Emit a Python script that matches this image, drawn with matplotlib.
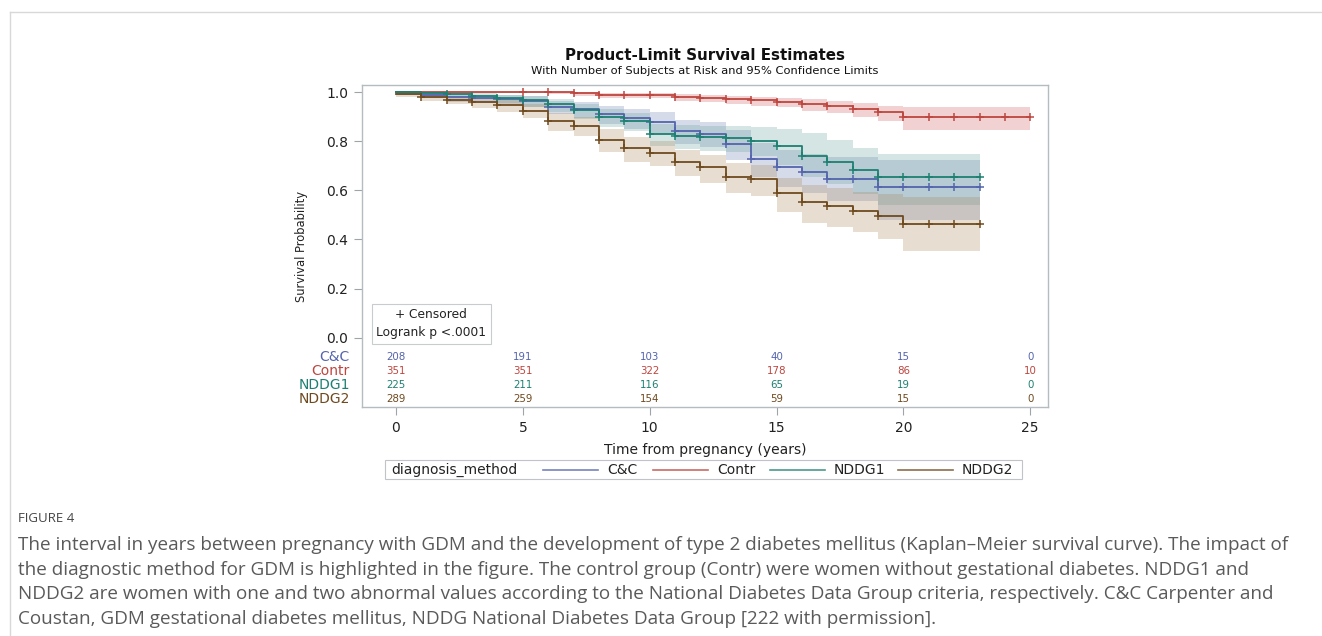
import numpy as np
import matplotlib.pyplot as plt
from matplotlib.lines import Line2D
from matplotlib.patches import Rectangle

plt.rcParams['font.family'] = ['DejaVu Sans']

# groups and colours
groups = ["C&C", "Contr", "NDDG1", "NDDG2"]
line_cols = ["#5464ad", "#bd463f", "#1d8071", "#6f4a1f"]
band_cols = ["#6f7eb3", "#d05b5b", "#66a5a0", "#a9865b"]

# Kaplan-Meier estimates, one value per yearly step
t_cc = list(range(20))
s_cc = [1.000, 0.990, 0.980, 0.975, 0.970, 0.965, 0.940, 0.930, 0.911, 0.895,
        0.878, 0.840, 0.831, 0.789, 0.727, 0.694, 0.673, 0.646, 0.646, 0.613]
lo_cc = [0.990, 0.975, 0.960, 0.955, 0.950, 0.940, 0.910, 0.895, 0.870, 0.850,
         0.830, 0.790, 0.775, 0.725, 0.655, 0.615, 0.590, 0.555, 0.555, 0.480]
hi_cc = [1.000, 1.000, 0.995, 0.990, 0.990, 0.985, 0.965, 0.958, 0.945, 0.932,
         0.920, 0.888, 0.880, 0.845, 0.792, 0.765, 0.748, 0.735, 0.735, 0.724]
end_cc = 23
cens_cc = list(range(3, 24))

t_co = list(range(21))
s_co = [1.000, 1.000, 1.000, 1.000, 1.000, 1.000, 1.000, 0.995, 0.990, 0.990,
        0.990, 0.981, 0.976, 0.971, 0.966, 0.961, 0.952, 0.945, 0.931, 0.919, 0.900]
lo_co = [0.995, 0.995, 0.995, 0.995, 0.995, 0.995, 0.992, 0.985, 0.978, 0.978,
         0.978, 0.965, 0.958, 0.952, 0.945, 0.938, 0.925, 0.915, 0.898, 0.882, 0.844]
hi_co = [1.000, 1.000, 1.000, 1.000, 1.000, 1.000, 1.000, 1.000, 0.998, 0.998,
         0.998, 0.992, 0.988, 0.985, 0.980, 0.976, 0.970, 0.965, 0.955, 0.945, 0.940]
end_co = 25
cens_co = list(range(5, 26))

t_n1 = list(range(20))
s_n1 = [1.000, 0.996, 0.993, 0.985, 0.975, 0.966, 0.950, 0.926, 0.900, 0.881,
        0.831, 0.822, 0.816, 0.813, 0.802, 0.779, 0.738, 0.714, 0.681, 0.654]
lo_n1 = [0.990, 0.985, 0.980, 0.970, 0.955, 0.940, 0.920, 0.890, 0.860, 0.840,
         0.780, 0.770, 0.760, 0.755, 0.740, 0.705, 0.655, 0.625, 0.585, 0.541]
hi_n1 = [1.000, 1.000, 1.000, 0.995, 0.990, 0.985, 0.972, 0.952, 0.930, 0.915,
         0.872, 0.865, 0.862, 0.862, 0.858, 0.850, 0.835, 0.806, 0.772, 0.748]
end_n1 = 23
cens_n1 = list(range(2, 24))

t_n2 = list(range(21))
s_n2 = [0.993, 0.980, 0.969, 0.958, 0.946, 0.925, 0.881, 0.861, 0.806, 0.772,
        0.754, 0.716, 0.694, 0.655, 0.647, 0.588, 0.553, 0.538, 0.518, 0.496, 0.462]
lo_n2 = [0.980, 0.965, 0.950, 0.935, 0.920, 0.893, 0.840, 0.820, 0.758, 0.714,
         0.700, 0.659, 0.632, 0.588, 0.578, 0.511, 0.469, 0.452, 0.432, 0.400, 0.354]
hi_n2 = [1.000, 0.993, 0.985, 0.978, 0.968, 0.952, 0.915, 0.898, 0.848, 0.818,
         0.800, 0.765, 0.745, 0.710, 0.705, 0.650, 0.620, 0.610, 0.595, 0.585, 0.572]
end_n2 = 23
cens_n2 = list(range(1, 24))

times = [t_cc, t_co, t_n1, t_n2]
survs = [s_cc, s_co, s_n1, s_n2]
lows = [lo_cc, lo_co, lo_n1, lo_n2]
highs = [hi_cc, hi_co, hi_n1, hi_n2]
ends = [end_cc, end_co, end_n1, end_n2]
cens = [cens_cc, cens_co, cens_n1, cens_n2]

# numbers at risk
risk_times = [0, 5, 10, 15, 20, 25]
risk_cc = [208, 191, 103, 40, 15, 0]
risk_co = [351, 351, 322, 178, 86, 10]
risk_n1 = [225, 211, 116, 65, 19, 0]
risk_n2 = [289, 259, 154, 59, 15, 0]
risks = [risk_cc, risk_co, risk_n1, risk_n2]
risk_rows = [-0.078, -0.135, -0.192, -0.249]

caption = [
    "The interval in years between pregnancy with GDM and the development of type 2 diabetes mellitus (Kaplan\u2013Meier survival curve). The impact of",
    "the diagnostic method for GDM is highlighted in the figure. The control group (Contr) were women without gestational diabetes. NDDG1 and",
    "NDDG2 are women with one and two abnormal values according to the National Diabetes Data Group criteria, respectively. C&C Carpenter and",
    "Coustan, GDM gestational diabetes mellitus, NDDG National Diabetes Data Group [222 with permission].",
]

W, H = 1322, 636
fig = plt.figure(figsize=(W / 100, H / 100), dpi=100)


def fx(px):
    return px / W


def fy(py):
    return 1 - py / H


ax = fig.add_axes([fx(362), fy(407), fx(1048) - fx(362), fy(85) - fy(407)])

for i in range(4):
    tt = np.append(times[i], ends[i])
    lo = np.append(lows[i], lows[i][-1])
    hi = np.append(highs[i], highs[i][-1])
    ax.fill_between(tt, lo, hi, step='post', color=band_cols[i], alpha=0.28, lw=0)

for i in range(4):
    tt = np.append(times[i], ends[i])
    ss = np.append(survs[i], survs[i][-1])
    ax.step(tt, ss, where='post', color=line_cols[i], lw=1.3)
    # censored marks at the survival value at that time
    idx = np.searchsorted(times[i], cens[i], side='right') - 1
    cs = np.array(survs[i])[idx]
    ax.plot(cens[i], cs, ls='none', marker='+', ms=6, mew=1.1, color=line_cols[i])

# risk table inside the frame
for i in range(4):
    for t, n in zip(risk_times, risks[i]):
        ax.text(t, risk_rows[i], str(n), ha='center', va='center', fontsize=7.4,
                color=line_cols[i])
    ax.text(-0.018, risk_rows[i], groups[i], ha='right', va='center', fontsize=10,
            color=line_cols[i], transform=ax.get_yaxis_transform())

ax.set_xlim(-1.34, 25.7)
ax.set_ylim(-0.282, 1.029)
ax.set_xticks([0, 5, 10, 15, 20, 25])
ax.set_yticks([0, 0.2, 0.4, 0.6, 0.8, 1.0])
ax.set_yticklabels(["0.0", "0.2", "0.4", "0.6", "0.8", "1.0"])
ax.tick_params(length=6, width=0.8, color='#a0a4a8', labelsize=10, labelcolor='#222222', pad=4)
for sp in ax.spines.values():
    sp.set_color('#b4bcc0')
    sp.set_linewidth(1.0)
ax.set_xlabel("Time from pregnancy (years)", fontsize=10, color='#222222', labelpad=6)
ax.set_ylabel("Survival Probability", fontsize=8.3, color='#222222', labelpad=13)

ax.text(0.101, 0.259, "+ Censored\nLogrank p <.0001", transform=ax.transAxes,
        ha='center', va='center', fontsize=8.8, color='#222222', linespacing=1.55,
        bbox=dict(boxstyle='square,pad=0.35', fc='white', ec='#c8cccf', lw=0.8))

fig.text(fx(705), fy(56), "Product-Limit Survival Estimates", ha='center', va='center',
         fontsize=10.9, fontweight='bold', color='#111111')
fig.text(fx(705), fy(71), "With Number of Subjects at Risk and 95% Confidence Limits",
         ha='center', va='center', fontsize=8.25, color='#111111')

# legend box drawn by hand
fig.add_artist(Rectangle((fx(385), fy(479)), fx(1022) - fx(385), fy(460) - fy(479),
                         transform=fig.transFigure, fill=False, ec='#c0c4c8', lw=0.8))
fig.text(fx(391), fy(470), "diagnosis_method", ha='left', va='center', fontsize=10, color='#222222')
leg_x = [543, 653, 770, 898]
for i in range(4):
    fig.add_artist(Line2D([fx(leg_x[i]), fx(leg_x[i] + 55)], [fy(470), fy(470)],
                          transform=fig.transFigure, color=line_cols[i], lw=1.2, alpha=0.8))
    fig.text(fx(leg_x[i] + 64), fy(470), groups[i], ha='left', va='center', fontsize=10,
             color='#222222')

# page frame lines
fig.add_artist(Line2D([fx(10), 1], [fy(12), fy(12)], transform=fig.transFigure,
                      color='#d8d8d8', lw=1))
fig.add_artist(Line2D([fx(10), fx(10)], [fy(12), 0], transform=fig.transFigure,
                      color='#d8d8d8', lw=1))

fig.text(fx(18), fy(519), "FIGURE 4", ha='left', va='center', fontsize=9.5,
         color='#444444', family=['Open Sans', 'DejaVu Sans'])
for k, line in enumerate(caption):
    fig.text(fx(18), fy(545 + 24.6 * k), line, ha='left', va='center', fontsize=13.6,
             color='#5a5a5a', family=['Open Sans', 'DejaVu Sans'])

fig.savefig("out.png", dpi=100)
